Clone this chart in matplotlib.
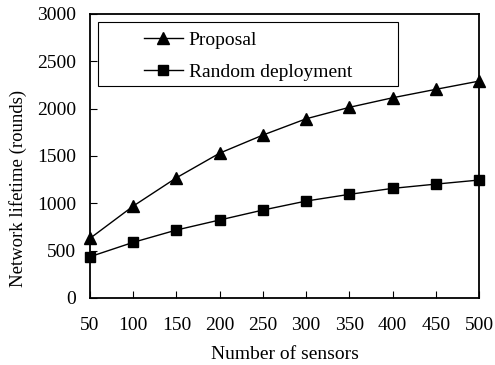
import matplotlib
matplotlib.use('Agg')
import matplotlib.pyplot as plt
from matplotlib.patches import Rectangle

sensors = [50, 100, 150, 200, 250, 300, 350, 400, 450, 500]
proposal = [630, 971, 1270, 1530, 1721, 1893, 2014, 2115, 2204, 2291]
random_dep = [436, 588, 718, 824, 929, 1024, 1095, 1158, 1203, 1246]

plt.rcParams['font.family'] = ['Liberation Serif', 'DejaVu Serif']

fig = plt.figure(figsize=(4.95, 3.65), dpi=100)
# axes box measured in pixels off the reference
ax = fig.add_axes([90 / 495, 1 - 298 / 365, (479 - 90) / 495, (298 - 14) / 365])

ax.plot(sensors, proposal, 'k-^', lw=1, ms=8, label='Proposal', clip_on=False)
ax.plot(sensors, random_dep, 'k-s', lw=1, ms=6.5, label='Random deployment', clip_on=False)

ax.set_xlim(50, 500)
ax.set_ylim(0, 3000)
ax.set_xticks(sensors)
ax.set_yticks(range(0, 3001, 500))
ax.tick_params(direction='in', labelsize=14, right=False, top=False, length=5, width=0.8)
ax.tick_params(axis='x', pad=14)
ax.tick_params(axis='y', pad=10)
for s in ax.spines.values():
    s.set_linewidth(1.3)

ax.set_xlabel('Number of sensors', fontsize=14)
ax.xaxis.set_label_coords(0.5, (298 - 346) / 284)
ax.set_ylabel('Network lifetime (rounds)', fontsize=13.5)
ax.yaxis.set_label_coords((27 - 90) / 389, (298 - 188) / 284)

# legend frame drawn separately (wide left padding in original)
ax.add_patch(Rectangle((8 / 389, (298 - 86) / 284), 300 / 389, 64 / 284,
                       transform=ax.transAxes, fill=False, ec='k', lw=0.8))
ax.legend(loc='center left', bbox_to_anchor=((144 - 90) / 389, (298 - 56) / 284),
          fontsize=14, frameon=False, borderpad=0, borderaxespad=0,
          handlelength=2.0, handletextpad=0.3, labelspacing=0.75)

fig.savefig('out.png', dpi=100)
